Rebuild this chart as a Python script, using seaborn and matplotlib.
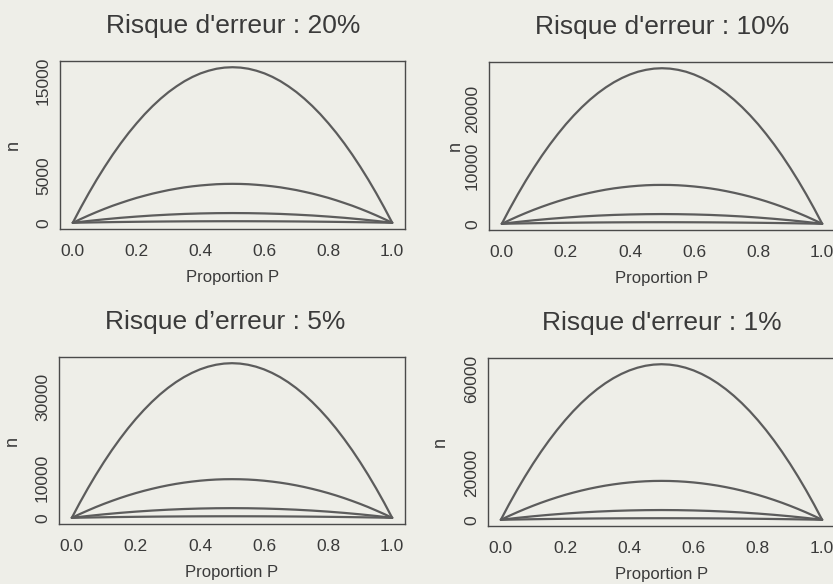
import matplotlib
matplotlib.use("Agg")
import numpy as np
import pandas as pd
import matplotlib.pyplot as plt
import seaborn as sns

# Proportion P grids: a fine one for the tall curves, a coarser one for the flat ones
proportion_fine = [0.000, 0.025, 0.050, 0.075, 0.100, 0.125, 0.150, 0.175, 0.200, 0.225,
                   0.250, 0.275, 0.300, 0.325, 0.350, 0.375, 0.400, 0.425, 0.450, 0.475,
                   0.500, 0.525, 0.550, 0.575, 0.600, 0.625, 0.650, 0.675, 0.700, 0.725,
                   0.750, 0.775, 0.800, 0.825, 0.850, 0.875, 0.900, 0.925, 0.950, 0.975,
                   1.000]
proportion = [0.00, 0.05, 0.10, 0.15, 0.20, 0.25, 0.30, 0.35, 0.40, 0.45, 0.50,
              0.55, 0.60, 0.65, 0.70, 0.75, 0.80, 0.85, 0.90, 0.95, 1.00]

# Required sample size n; curves for margins of error 0.5%, 1%, 2% and 5%
margins = ["0.5%", "1%", "2%", "5%"]

# Risque d'erreur 20%
n20_a = [0, 1600, 3120, 4560, 5910, 7190, 8380, 9490, 10510, 11460, 12320, 13100,
         13800, 14410, 14950, 15400, 15770, 16050, 16260, 16380, 16420, 16380, 16260,
         16050, 15770, 15400, 14950, 14410, 13800, 13100, 12320, 11460, 10510, 9490,
         8380, 7190, 5910, 4560, 3120, 1600, 0]
n20_b = [0, 400, 780, 1140, 1480, 1800, 2090, 2370, 2630, 2860, 3080, 3270, 3450,
         3600, 3740, 3850, 3940, 4010, 4070, 4100, 4110, 4100, 4070, 4010, 3940, 3850,
         3740, 3600, 3450, 3270, 3080, 2860, 2630, 2370, 2090, 1800, 1480, 1140, 780,
         400, 0]
n20_c = [0, 195, 370, 525, 655, 770, 860, 935, 985, 1015, 1025,
         1015, 985, 935, 860, 770, 655, 525, 370, 195, 0]
n20_d = [0, 31, 59, 84, 105, 123, 138, 149, 157, 162, 164,
         162, 157, 149, 138, 123, 105, 84, 59, 31, 0]

# Risque d'erreur 10%
n10_a = [0, 2640, 5140, 7510, 9740, 11840, 13800, 15620, 17320, 18870, 20290, 21580,
         22730, 23740, 24620, 25360, 25970, 26450, 26780, 26990, 27060, 26990, 26780,
         26450, 25970, 25360, 24620, 23740, 22730, 21580, 20290, 18870, 17320, 15620,
         13800, 11840, 9740, 7510, 5140, 2640, 0]
n10_b = [0, 660, 1290, 1880, 2440, 2960, 3450, 3910, 4330, 4720, 5070, 5390, 5680,
         5940, 6160, 6340, 6490, 6610, 6700, 6750, 6760, 6750, 6700, 6610, 6490, 6340,
         6160, 5940, 5680, 5390, 5070, 4720, 4330, 3910, 3450, 2960, 2440, 1880, 1290,
         660, 0]
n10_c = [0, 320, 610, 860, 1080, 1270, 1420, 1540, 1620, 1670, 1690,
         1670, 1620, 1540, 1420, 1270, 1080, 860, 610, 320, 0]
n10_d = [0, 51, 98, 138, 173, 203, 228, 247, 260, 268, 271,
         268, 260, 247, 228, 203, 173, 138, 98, 51, 0]

# Risque d'erreur 5%
n5_a = [0, 3750, 7300, 10660, 13830, 16810, 19590, 22190, 24590, 26790, 28810, 30640,
        32270, 33710, 34960, 36010, 36880, 37550, 38030, 38320, 38420, 38320, 38030,
        37550, 36880, 36010, 34960, 33710, 32270, 30640, 28810, 26790, 24590, 22190,
        19590, 16810, 13830, 10660, 7300, 3750, 0]
n5_b = [0, 940, 1820, 2670, 3460, 4200, 4900, 5550, 6150, 6700, 7200, 7660, 8070,
        8430, 8740, 9000, 9220, 9390, 9510, 9580, 9600, 9580, 9510, 9390, 9220, 9000,
        8740, 8430, 8070, 7660, 7200, 6700, 6150, 5550, 4900, 4200, 3460, 2670, 1820,
        940, 0]
n5_c = [0, 456, 864, 1225, 1537, 1800, 2017, 2185, 2305, 2377, 2400,
        2377, 2305, 2185, 2017, 1800, 1537, 1225, 864, 456, 0]
n5_d = [0, 73, 138, 196, 246, 288, 323, 349, 369, 380, 384,
        380, 369, 349, 323, 288, 246, 196, 138, 73, 0]

# Risque d'erreur 1%
n1_a = [0, 6470, 12610, 18410, 23890, 29030, 33840, 38320, 42460, 46280, 49760, 52910,
        55730, 58220, 60380, 62200, 63700, 64860, 65690, 66180, 66350, 66180, 65690,
        64860, 63700, 62200, 60380, 58220, 55730, 52910, 49760, 46280, 42460, 38320,
        33840, 29030, 23890, 18410, 12610, 6470, 0]
n1_b = [0, 1620, 3150, 4600, 5970, 7260, 8460, 9580, 10620, 11570, 12440, 13230,
        13930, 14560, 15090, 15550, 15920, 16210, 16420, 16550, 16590, 16550, 16420,
        16210, 15920, 15550, 15090, 14560, 13930, 13230, 12440, 11570, 10620, 9580,
        8460, 7260, 5970, 4600, 3150, 1620, 0]
n1_c = [0, 790, 1490, 2115, 2655, 3110, 3485, 3775, 3980, 4105, 4150,
        4105, 3980, 3775, 3485, 3110, 2655, 2115, 1490, 790, 0]
n1_d = [0, 126, 239, 338, 424, 497, 557, 603, 636, 656, 663,
        656, 636, 603, 557, 497, 424, 338, 239, 126, 0]

titles = ["Risque d'erreur : 20%", "Risque d'erreur : 10%",
          "Risque d\u2019erreur : 5%", "Risque d'erreur : 1%"]
x_ticks = [0.0, 0.2, 0.4, 0.6, 0.8, 1.0]
x_tick_labels = ["0.0", "0.2", "0.4", "0.6", "0.8", "1.0"]
y_ticks_20 = [0, 5000, 15000]
y_ticks_10 = [0, 10000, 20000]
y_ticks_5 = [0, 10000, 30000]
y_ticks_1 = [0, 20000, 60000]

panels = [
    (titles[0], [n20_a, n20_b, n20_c, n20_d], y_ticks_20),
    (titles[1], [n10_a, n10_b, n10_c, n10_d], y_ticks_10),
    (titles[2], [n5_a, n5_b, n5_c, n5_d], y_ticks_5),
    (titles[3], [n1_a, n1_b, n1_c, n1_d], y_ticks_1),
]

# ---- styling ----
PAPER = "#eeeee8"
INK = "#3a3a3a"
LINE = "#5c5c5c"
W, H = 833, 584

sns.set_theme(style="white")
plt.rcParams["font.family"] = ["Liberation Sans", "DejaVu Sans"]
plt.rcParams["text.color"] = INK
plt.rcParams["axes.labelcolor"] = INK
plt.rcParams["xtick.color"] = INK
plt.rcParams["ytick.color"] = INK

fig = plt.figure(figsize=(W / 100, H / 100), dpi=100, facecolor=PAPER)

# axes boxes in pixels: left, top, right, bottom
boxes = [(60, 61, 405, 229), (489, 62, 835, 230),
         (59, 357, 405, 524), (488, 358, 835, 526)]
ylabel_x_px = [13, 455, 12, 440]
title_x_px = [233, 662, 225, 662]

for (title, curves, yt), (l, t, r, b), ylx, tx in zip(panels, boxes, ylabel_x_px, title_x_px):
    ax = fig.add_axes([l / W, 1 - b / H, (r - l) / W, (b - t) / H])
    ax.set_facecolor(PAPER)

    grids = [proportion_fine, proportion_fine, proportion, proportion]
    df = pd.DataFrame({
        "P": [p for g in grids for p in g],
        "n": [v for c in curves for v in c],
        "marge": [m for m, g in zip(margins, grids) for _ in g],
    })
    sns.lineplot(data=df, x="P", y="n", units="marge", estimator=None,
                 color=LINE, linewidth=1.6, legend=False, ax=ax)

    top = max(curves[0])
    ax.set_xlim(-0.04, 1.04)
    ax.set_ylim(-0.04 * top, 1.04 * top)

    ax.set_xticks(x_ticks)
    ax.set_xticklabels(x_tick_labels)
    ax.set_yticks(yt)
    ax.set_yticklabels([str(v) for v in yt], rotation=90, va="center")
    ax.tick_params(axis="both", length=2, width=0.6, color="#b0b0b0",
                   labelsize=12.5, labelcolor=INK)
    ax.tick_params(axis="x", pad=9)
    ax.tick_params(axis="y", pad=4.5)

    for s in ax.spines.values():
        s.set_visible(True)
        s.set_color("#4a4a4a")
        s.set_linewidth(1.0)

    ax.set_xlabel("Proportion P", fontsize=12, labelpad=7.5)
    ax.set_ylabel("")
    fig.text(ylx / W, 1 - ((t + b) / 2) / H, "n", rotation=90,
             ha="center", va="center", fontsize=13, color=INK)

    fig.text(tx / W, 1 - (t - 28) / H, title, ha="center", va="baseline",
             fontsize=19, color=INK)

fig.savefig("out.png", dpi=100, facecolor=PAPER)
